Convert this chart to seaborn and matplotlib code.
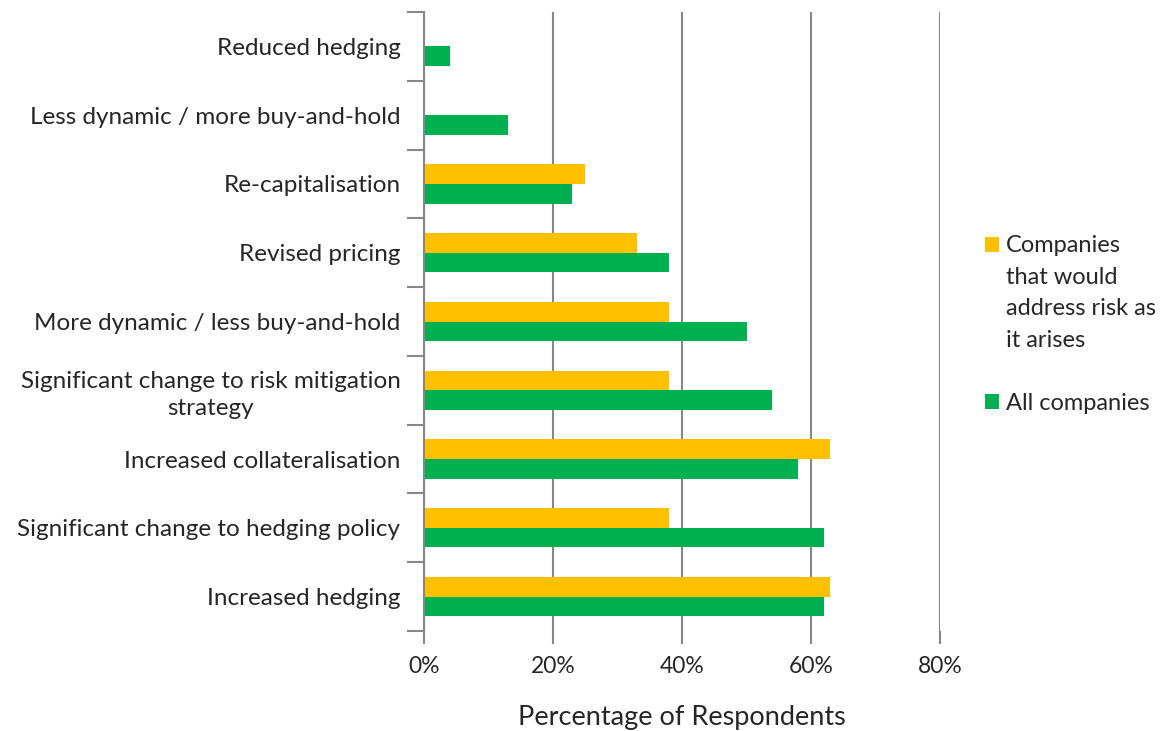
import matplotlib.pyplot as plt
import seaborn as sns
import pandas as pd
import numpy as np
from matplotlib.ticker import FixedLocator, PercentFormatter
from matplotlib.patches import Rectangle
from matplotlib.legend_handler import HandlerPatch

categories = ["Reduced hedging", "Less dynamic / more buy-and-hold", "Re-capitalisation",
              "Revised pricing", "More dynamic / less buy-and-hold",
              "Significant change to risk mitigation\nstrategy", "Increased collateralisation",
              "Significant change to hedging policy", "Increased hedging"]
address_risk = [np.nan, np.nan, 25, 33, 38, 38, 63, 38, 63]
all_companies = [4, 13, 23, 38, 50, 54, 58, 62, 62]
series_names = ["Companies\nthat would\naddress risk as\nit arises", "All companies"]
colors = ["#FFC000", "#00B050"]

df = pd.DataFrame({
    "Category": categories * 2,
    "Series": [series_names[0]] * len(categories) + [series_names[1]] * len(categories),
    "Value": address_risk + all_companies,
})

sns.set_style("white")
plt.rcParams["font.family"] = ["Lato", "DejaVu Sans"]

fig = plt.figure(figsize=(11.71, 7.31), dpi=100)
ax = fig.add_axes([424 / 1171, 1 - 631 / 731, (940 - 424) / 1171, (631 - 12) / 731])

sns.barplot(data=df, y="Category", x="Value", hue="Series", order=categories,
            hue_order=series_names, palette=colors, width=0.57, ax=ax,
            errorbar=None, saturation=1, edgecolor="none")

ax.set_xlim(0, 80)
ax.set_ylim(len(categories) - 0.5, -0.5)
ax.xaxis.set_major_locator(FixedLocator([0, 20, 40, 60, 80]))
ax.xaxis.set_major_formatter(PercentFormatter(decimals=0))
ax.grid(axis="x", color="#878787", linewidth=1.5)
ax.set_axisbelow(True)

for s in ["top", "right", "bottom"]:
    ax.spines[s].set_visible(False)
ax.spines["left"].set_color("#878787")
ax.spines["left"].set_linewidth(1.5)

ax.yaxis.set_minor_locator(FixedLocator(np.arange(-0.5, len(categories), 1)))
ax.tick_params(axis="y", which="major", length=0, pad=17, labelsize=17.5)
ax.tick_params(axis="y", which="minor", length=12, width=1.5, color="#878787", left=True)
ax.tick_params(axis="x", length=9, width=1.5, color="#878787", bottom=True, labelsize=16.5, pad=9)
for lbl in ax.get_yticklabels():
    lbl.set_multialignment("center")
    lbl.set_linespacing(1.35)

ax.set_ylabel("")
ax.set_xlabel("Percentage of Respondents", fontsize=19.5, labelpad=20)


def top_aligned(shift):
    # move the first legend square up to sit beside the first line of its label
    def make(legend, orig_handle, xdescent, ydescent, width, height, fontsize):
        return Rectangle((-xdescent, -ydescent + shift), width, height)
    return make


handles, labels = ax.get_legend_handles_labels()
leg = ax.legend(handles, labels, title=None, frameon=False, loc="center left",
                bbox_to_anchor=(1.046, 0.495), fontsize=17, handlelength=0.6,
                handleheight=0.6, handletextpad=0.3, labelspacing=1.8,
                handler_map={handles[0]: HandlerPatch(patch_func=top_aligned(35))})
for t in leg.get_texts():
    t.set_linespacing(1.62)

fig.savefig("out.png", dpi=100)
